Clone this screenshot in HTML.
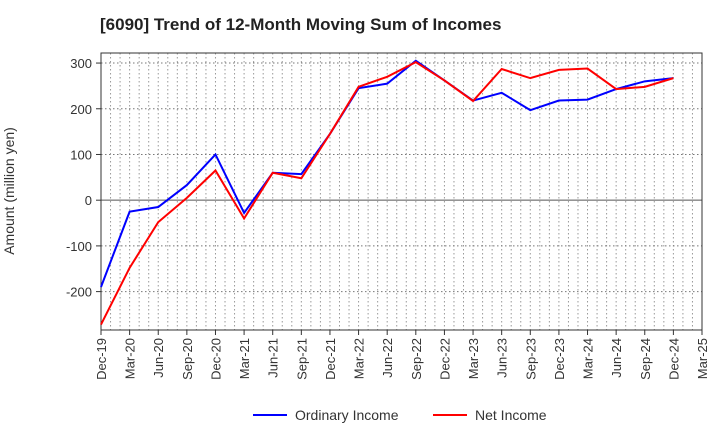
<!DOCTYPE html>
<html><head><meta charset="utf-8"><style>
body{margin:0;background:#fff;font-family:"Liberation Sans",sans-serif}
</style></head><body>
<svg id="c" width="720" height="440" xmlns="http://www.w3.org/2000/svg">
<text x="100" y="30" font-size="17" font-weight="bold" fill="#222">[6090]  Trend of 12-Month Moving Sum of Incomes</text>
<text transform="translate(14,191) rotate(-90)" text-anchor="middle" font-size="14" fill="#333">Amount (million yen)</text>
<g id="grid"></g><g id="axes"></g><g id="series"></g>
<g>
<line x1="253" y1="415" x2="287" y2="415" stroke="#0000ff" stroke-width="2"/>
<text x="295" y="420" font-size="14" fill="#333">Ordinary Income</text>
<line x1="433" y1="415" x2="467" y2="415" stroke="#ff0000" stroke-width="2"/>
<text x="475" y="420" font-size="14" fill="#333">Net Income</text>
</g>
</svg>
<script>
const categories=["Dec-19","Mar-20","Jun-20","Sep-20","Dec-20","Mar-21","Jun-21","Sep-21","Dec-21","Mar-22","Jun-22","Sep-22","Dec-22","Mar-23","Jun-23","Sep-23","Dec-23","Mar-24","Jun-24","Sep-24","Dec-24","Mar-25"];
const ordinaryIncome=[-190,-25,-15,33,100,-28,60,57,145,245,255,305,262,218,235,197,218,220,243,260,267];
const netIncome=[-272,-148,-48,5,65,-40,60,48,145,248,270,302,262,217,287,267,285,288,243,248,267];
const yTicks=[-200,-100,0,100,200,300];
const L=101,R=702,T=53,B=330,yMin=-284,yMax=322;
const NS="http://www.w3.org/2000/svg";
const xs=i=>L+(R-L)*i/(categories.length-1);
const ys=v=>B-(v-yMin)/(yMax-yMin)*(B-T);
function mk(t,a,p){const e=document.createElementNS(NS,t);for(const k in a)e.setAttribute(k,a[k]);p.appendChild(e);return e;}
const grid=document.getElementById('grid'),axes=document.getElementById('axes'),ser=document.getElementById('series');
const months=(categories.length-1)*3;
for(let m=1;m<months;m++){const x=L+(R-L)*m/months;const ln=mk('line',{x1:x,x2:x,y1:T,y2:B,stroke:'#999','stroke-dasharray':'1.5,2.5','stroke-width':1},grid);

}
yTicks.forEach(v=>{const y=ys(v);const ln=mk('line',{x1:L,x2:R,y1:y,y2:y,stroke:v===0?'#555':'#777','stroke-dasharray':v===0?'none':'1.5,2.5','stroke-width':1},grid);


mk('line',{x1:L-5,x2:L,y1:y,y2:y,stroke:'#333'},axes);
const t=mk('text',{x:L-9,y:y+5,'text-anchor':'end','font-size':13,fill:'#333'},axes);t.textContent=v;

});
const fr=mk('rect',{x:L,y:T,width:R-L,height:B-T,fill:'none',stroke:'#333'},axes);


categories.forEach((c,i)=>{const x=xs(i);mk('line',{x1:x,x2:x,y1:B,y2:B+5,stroke:'#333'},axes);
const t=mk('text',{transform:`translate(${x+5},${B+8}) rotate(-90)`,'text-anchor':'end','font-size':13,fill:'#333'},axes);t.textContent=c;

});
function line(d,col,name){const p=mk('polyline',{points:d.map((v,i)=>xs(i)+','+ys(v)).join(' '),fill:'none',stroke:col,'stroke-width':2},ser);

}
line(ordinaryIncome,'#0000ff','ordinary-income-line');
line(netIncome,'#ff0000','net-income-line');
</script>
</body></html>
